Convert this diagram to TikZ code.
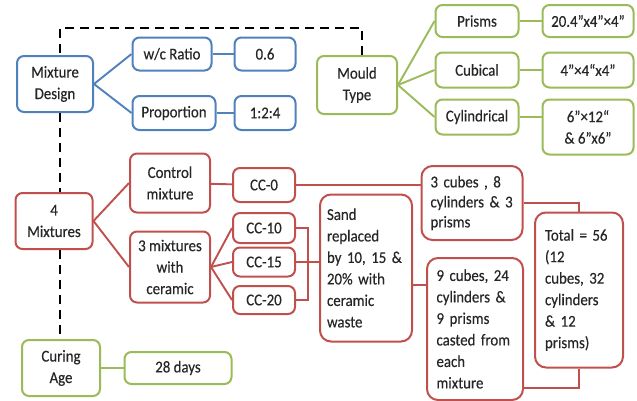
\documentclass[tikz,border=0pt]{standalone}
\usepackage{fontspec}
\setmainfont[FakeStretch=0.9, FakeBold=0.3]{Carlito}
\usepackage{xcolor}
\usepackage{tikz}
\usetikzlibrary{calc, positioning}
\definecolor{mdblue}{RGB}{79, 129, 189}
\definecolor{mdgreen}{RGB}{155, 187, 89}
\definecolor{mdred}{RGB}{192, 80, 77}
\newcommand{\boxfont}{\fontsize{16.5}{21.5}\selectfont}
\tikzset{
    roundnode/.style = {draw, rectangle, rounded corners=7pt, line width=2pt, fill=white,
      inner sep=2pt, node distance=0pt, font=\boxfont, align=center, text=black!85},
    bluenode/.style = {roundnode, draw=mdblue},
    greennode/.style = {roundnode, draw=mdgreen},
    rednode/.style = {roundnode, draw=mdred},
    listnode/.style = {rednode, rounded corners=11pt, align=left},
    connect/.style = {line width=1.9pt},
    dashlink/.style = {line width=2.5pt, dash pattern=on 9pt off 6pt}
}

\begin{document}
\begin{tikzpicture}[x=1pt, y=-1pt]
    \useasboundingbox (0,0) rectangle (637,400);

    % mixture design (blue)
    \node [name = md, bluenode, minimum width=76pt, minimum height=56pt] at (55,84) {Mixture\\Design};
    \node [name = wc, bluenode, minimum width=79pt, minimum height=33pt] at (172,54) {w/c Ratio};
    \node [name = wcv, bluenode, right of = wc, xshift = 93pt, minimum width=61pt, minimum height=33pt] {0.6};
    \node [name = prop, bluenode, minimum width=83pt, minimum height=34pt] at (174,113) {Proportion};
    \node [name = propv, bluenode, right of = prop, xshift = 91pt, minimum width=61pt, minimum height=34pt] {1:2:4};

    % mould type (green)
    \node [name = mould, greennode, minimum width=80pt, minimum height=58pt] at (357,85) {Mould\\Type};
    \node [name = prisms, greennode, minimum width=83pt, minimum height=32pt] at (477,21) {Prisms};
    \node [name = prismsv, greennode, right of = prisms, xshift = 111pt, minimum width=91pt, minimum height=32pt] {20.4”x4”×4”};
    \node [name = cubical, greennode, minimum width=83pt, minimum height=35pt] at (477,70) {Cubical};
    \node [name = cubicalv, greennode, right of = cubical, xshift = 111pt, minimum width=91pt, minimum height=35pt] {4”×4“x4”};
    \node [name = cyl, greennode, minimum width=83pt, minimum height=35pt] at (477,117) {Cylindrical};
    \node [name = cylv, greennode, minimum width=91pt, minimum height=55pt] at (588,127) {6”×12“\\\& 6”x6”};

    % mixtures (red)
    \node [name = mix4, rednode, minimum width=77pt, minimum height=56pt] at (54,221) {4\\Mixtures};
    \node [name = ctrl, rednode, minimum width=80pt, minimum height=59pt] at (170,183) {Control\\mixture};
    \node [name = cc0, rednode, right of = ctrl, xshift = 94pt, yshift=-2pt, minimum width=62pt, minimum height=34pt] {CC-0};
    \node [name = mix3, rednode, minimum width=80pt, minimum height=71pt] at (170,267) {3 mixtures\\with\\ceramic};
    \node [name = cc10, rednode, minimum width=62pt, minimum height=30pt] at (264,228) {CC-10};
    \node [name = cc15, rednode, minimum width=62pt, minimum height=29pt] at (264,262) {CC-15};
    \node [name = cc20, rednode, minimum width=62pt, minimum height=28pt] at (264,300) {CC-20};
    \node [name = sand, listnode, text width=78pt, inner xsep=7pt, minimum height=147pt] at (366,268)
        {Sand\\replaced\\by 10, 15 \&\\20\% with\\ceramic\\waste};
    \node [name = cubes3, listnode, text width=91pt, inner xsep=5pt, minimum height=74pt, font=\fontsize{16.5}{20}\selectfont] at (472,203)
        {\hspace*{4pt}3 cubes , 8\\\hspace*{4pt}cylinders \& 3\\\hspace*{4pt}prisms};
    \node [name = cubes9, listnode, text width=77pt, inner xsep=9.5pt, minimum height=142pt] at (475,329)
        {9 cubes, 24\\cylinders \&\\9 prisms\\casted from\\each\\mixture};
    \node [name = total, listnode, text width=68pt, inner xsep=10pt, minimum height=155pt] at (579,290)
        {Total = 56\\(12\\cubes, 32\\cylinders\\\& 12\\prisms)};

    % curing (green)
    \node [name = curing, greennode, minimum width=78pt, minimum height=56pt] at (61,368) {Curing\\Age};
    \node [name = days, greennode, right of = curing, xshift = 117pt, minimum width=107pt, minimum height=32pt] {28 days};

    \coordinate (dtop) at (60,28);
    \coordinate (dtopr) at (362,28);
    \coordinate (brk) at (308,0);
    \coordinate (sandlink) at (0,285);
    \coordinate (totlink) at (0,388);

    \draw[dashlink] (dtopr |- mould.north) -- (dtopr) -- (dtop) -- (dtop |- md.north);
    \draw[dashlink] (dtop |- md.south) -- (dtop |- mix4.north);
    \draw[dashlink] (dtop |- mix4.south) -- (dtop |- curing.north);

    \draw[connect, mdblue] (md.east) edge (wc.west) edge (prop.west);
    \draw[connect, mdblue] (wc) edge (wcv) (prop) edge (propv);

    \draw[connect, mdgreen] (mould.east) edge (prisms.west) edge (cubical.west) edge (cyl.west);
    \draw[connect, mdgreen] (prisms) edge (prismsv) (cubical) edge (cubicalv);
    \draw[connect, mdgreen] (cyl.east) -- (cyl.east -| cylv.west);
    \draw[connect, mdgreen] (curing) edge (days);

    \draw[connect, mdred] (mix4.east) edge (ctrl.west) edge (mix3.west);
    \draw[connect, mdred] (mix3.east) edge (cc10.west) edge (cc15.west) edge (cc20.west);
    \draw[connect, mdred] (ctrl) edge (cc0);
    \draw[connect, mdred] (cc0.east) -- (cc0.east -| cubes3.west);
    \draw[connect, mdred] (cc10.east) -- (cc10.east -| brk) -- (cc20.east -| brk) -- (cc20.east);
    \draw[connect, mdred] (cc15.east) -- (cc15.east -| sand.west);
    \draw[connect, mdred] (sand.east |- sandlink) -- (cubes9.west |- sandlink);
    \draw[connect, mdred] (cubes3.east) -| (total.north);
    \draw[connect, mdred] (total.south) |- (cubes9.east |- totlink);
\end{tikzpicture}
\end{document}
